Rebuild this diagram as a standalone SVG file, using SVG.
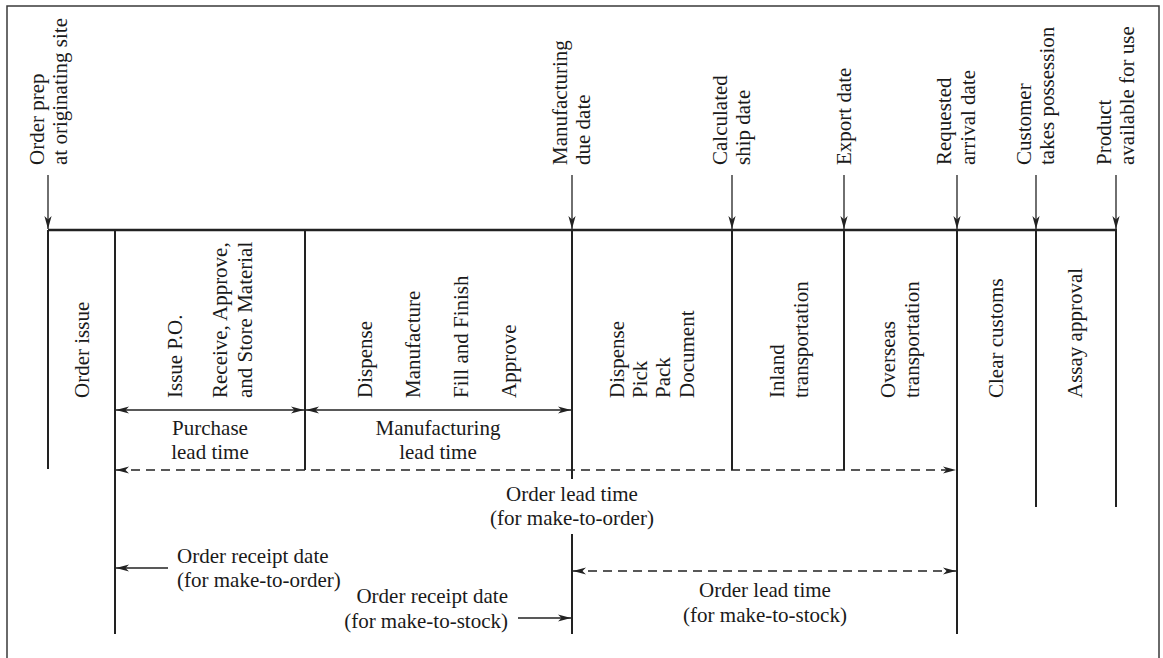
<svg xmlns="http://www.w3.org/2000/svg" width="1163" height="658" viewBox="0 0 1163 658">
<style>
  text { font-family: "Liberation Serif", "Times New Roman", serif; font-size: 21px; fill: #1a1a1a; }
  .mid { text-anchor: middle; }
  .end { text-anchor: end; }
  .frame { fill: none; stroke: #3a3a3a; stroke-width: 1.5; }
  .main { stroke: #222; stroke-width: 2; fill: none; }
  .axis { stroke: #222; stroke-width: 2.5; fill: none; }
  .arr { stroke: #222; stroke-width: 1.3; fill: none; }
  .dash { stroke: #222; stroke-width: 1.3; fill: none; stroke-dasharray: 9 6; }
</style>
<defs>
  <marker id="ah" markerUnits="userSpaceOnUse" viewBox="0 -4 14 8" refX="13" refY="0" markerWidth="14" markerHeight="8" orient="auto-start-reverse">
    <path d="M0,-3.6 L13,0 L0,3.6 L3.5,0 Z" fill="#222"/>
  </marker>
</defs>

<path id="frame" class="frame" d="M7,658 V6 H1159 V658"/>

<g id="timeline">
  <line class="axis" x1="48" y1="230" x2="1117" y2="230"/>
  <line class="main" x1="48" y1="230" x2="48" y2="469"/>
  <line class="main" x1="115" y1="230" x2="115" y2="634"/>
  <line class="main" x1="305" y1="230" x2="305" y2="470"/>
  <line class="main" x1="572" y1="230" x2="572" y2="479"/>
  <line class="main" x1="572" y1="534" x2="572" y2="634"/>
  <line class="main" x1="732" y1="230" x2="732" y2="470"/>
  <line class="main" x1="844" y1="230" x2="844" y2="470"/>
  <line class="main" x1="957" y1="230" x2="957" y2="634"/>
  <line class="main" x1="1036" y1="230" x2="1036" y2="507"/>
  <line class="main" x1="1116" y1="230" x2="1116" y2="507"/>
</g>

<g id="connectors">
  <line class="arr" x1="48" y1="175" x2="48" y2="229" marker-end="url(#ah)"/>
  <line class="arr" x1="572" y1="175" x2="572" y2="229" marker-end="url(#ah)"/>
  <line class="arr" x1="732" y1="175" x2="732" y2="229" marker-end="url(#ah)"/>
  <line class="arr" x1="844" y1="175" x2="844" y2="229" marker-end="url(#ah)"/>
  <line class="arr" x1="957" y1="175" x2="957" y2="229" marker-end="url(#ah)"/>
  <line class="arr" x1="1036" y1="175" x2="1036" y2="229" marker-end="url(#ah)"/>
  <line class="arr" x1="1116" y1="175" x2="1116" y2="229" marker-end="url(#ah)"/>
  <line class="arr" x1="116" y1="410" x2="304" y2="410" marker-start="url(#ah)" marker-end="url(#ah)"/>
  <line class="arr" x1="306" y1="410" x2="571" y2="410" marker-start="url(#ah)" marker-end="url(#ah)"/>
  <line class="dash" x1="116" y1="470" x2="956" y2="470" marker-start="url(#ah)" marker-end="url(#ah)"/>
  <line class="dash" x1="573" y1="571" x2="956" y2="571" marker-start="url(#ah)" marker-end="url(#ah)"/>
  <line class="arr" x1="168" y1="568" x2="116" y2="568" marker-end="url(#ah)"/>
  <line class="arr" x1="518" y1="618" x2="571" y2="618" marker-end="url(#ah)"/>
</g>

<g id="milestone-order-prep">
  <text transform="translate(44,165) rotate(-90)">Order prep</text>
  <text transform="translate(67,165) rotate(-90)">at originating site</text>
</g>
<g id="milestone-manufacturing-due">
  <text transform="translate(567,165) rotate(-90)">Manufacturing</text>
  <text transform="translate(590,165) rotate(-90)">due date</text>
</g>
<g id="milestone-calculated-ship">
  <text transform="translate(727,165) rotate(-90)">Calculated</text>
  <text transform="translate(750,165) rotate(-90)">ship date</text>
</g>
<g id="milestone-export">
  <text transform="translate(851,165) rotate(-90)">Export date</text>
</g>
<g id="milestone-requested-arrival">
  <text transform="translate(951,165) rotate(-90)">Requested</text>
  <text transform="translate(975,165) rotate(-90)">arrival date</text>
</g>
<g id="milestone-customer">
  <text transform="translate(1031,165) rotate(-90)">Customer</text>
  <text transform="translate(1054,165) rotate(-90)">takes possession</text>
</g>
<g id="milestone-product">
  <text transform="translate(1111,165) rotate(-90)">Product</text>
  <text transform="translate(1134,165) rotate(-90)">available for use</text>
</g>

<g id="step-order-issue">
  <text transform="translate(89,398) rotate(-90)">Order issue</text>
</g>
<g id="step-purchase">
  <text transform="translate(182,398) rotate(-90)">Issue P.O.</text>
  <text transform="translate(227,398) rotate(-90)">Receive, Approve,</text>
  <text transform="translate(252,398) rotate(-90)">and Store Material</text>
</g>
<g id="step-manufacturing">
  <text transform="translate(372,398) rotate(-90)">Dispense</text>
  <text transform="translate(420,398) rotate(-90)">Manufacture</text>
  <text transform="translate(468,398) rotate(-90)">Fill and Finish</text>
  <text transform="translate(516,398) rotate(-90)">Approve</text>
</g>
<g id="step-shipping">
  <text transform="translate(624,398) rotate(-90)">Dispense</text>
  <text transform="translate(647,398) rotate(-90)">Pick</text>
  <text transform="translate(670,398) rotate(-90)">Pack</text>
  <text transform="translate(694,398) rotate(-90)">Document</text>
</g>
<g id="step-inland">
  <text transform="translate(784,398) rotate(-90)">Inland</text>
  <text transform="translate(808,398) rotate(-90)">transportation</text>
</g>
<g id="step-overseas">
  <text transform="translate(895,398) rotate(-90)">Overseas</text>
  <text transform="translate(919,398) rotate(-90)">transportation</text>
</g>
<g id="step-customs">
  <text transform="translate(1003,398) rotate(-90)">Clear customs</text>
</g>
<g id="step-assay">
  <text transform="translate(1082,398) rotate(-90)">Assay approval</text>
</g>

<g id="purchase-lead-time">
  <text class="mid" x="210" y="435">Purchase</text>
  <text class="mid" x="210" y="459">lead time</text>
</g>
<g id="manufacturing-lead-time">
  <text class="mid" x="438" y="435">Manufacturing</text>
  <text class="mid" x="438" y="459">lead time</text>
</g>
<g id="order-lead-time-mto">
  <text class="mid" x="572" y="501">Order lead time</text>
  <text class="mid" x="572" y="525">(for make-to-order)</text>
</g>
<g id="order-receipt-mto">
  <text x="177" y="563">Order receipt date</text>
  <text x="177" y="587">(for make-to-order)</text>
</g>
<g id="order-receipt-mts">
  <text class="end" x="508" y="603">Order receipt date</text>
  <text class="end" x="508" y="628">(for make-to-stock)</text>
</g>
<g id="order-lead-time-mts">
  <text class="mid" x="765" y="597">Order lead time</text>
  <text class="mid" x="765" y="622">(for make-to-stock)</text>
</g>
</svg>
